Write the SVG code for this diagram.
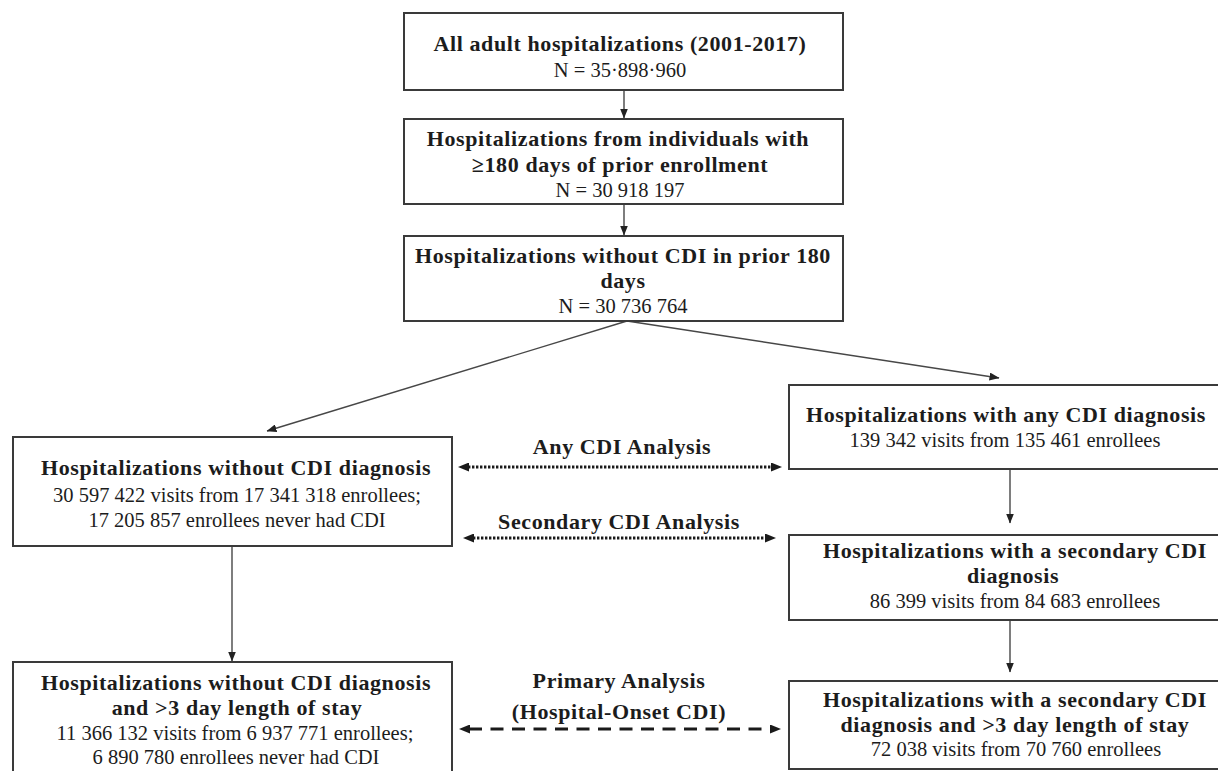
<svg xmlns="http://www.w3.org/2000/svg" width="1218" height="771" viewBox="0 0 1218 771">
<style>
.box{fill:#fff;stroke:#3a3a3a;stroke-width:2}
.t{font-family:"Liberation Serif","Times New Roman",serif;fill:#1c1c1c;text-anchor:middle}
.b{font-weight:bold;font-size:22px;letter-spacing:0.6px}
.r{font-size:20.5px}
.conn{stroke:#474747;stroke-width:1.4;fill:none}
.dot{stroke:#1a1a1a;stroke-width:3.2;fill:none;stroke-dasharray:2.4 1.6}
.dash{stroke:#1a1a1a;stroke-width:3;fill:none;stroke-dasharray:13 8.5}
</style>
<defs>
<marker id="ah" markerUnits="userSpaceOnUse" markerWidth="10" markerHeight="8" refX="9.5" refY="4" orient="auto">
<path d="M0,0 L10,4 L0,8 z" fill="#222"/>
</marker>
<marker id="ab" markerUnits="userSpaceOnUse" markerWidth="11" markerHeight="9" refX="1" refY="4.5" orient="auto-start-reverse">
<path d="M0,0 L11,4.5 L0,9 z" fill="#1a1a1a"/>
</marker>
</defs>
<rect width="1218" height="771" fill="#fff"/>

<g id="connectors">
<line class="conn" x1="624" y1="90" x2="624" y2="118" marker-end="url(#ah)"/>
<line class="conn" x1="624" y1="204" x2="624" y2="235" marker-end="url(#ah)"/>
<line class="conn" x1="627" y1="321" x2="267" y2="431" marker-end="url(#ah)"/>
<line class="conn" x1="627" y1="321" x2="999" y2="378" marker-end="url(#ah)"/>
<line class="conn" x1="232" y1="546" x2="232" y2="661" marker-end="url(#ah)"/>
<line class="conn" x1="1010" y1="469" x2="1010" y2="523" marker-end="url(#ah)"/>
<line class="conn" x1="1010" y1="620" x2="1010" y2="672" marker-end="url(#ah)"/>
<line class="dot" x1="468" y1="467" x2="772" y2="467" marker-start="url(#ab)" marker-end="url(#ab)"/>
<line class="dot" x1="473" y1="538" x2="766" y2="538" marker-start="url(#ab)" marker-end="url(#ab)"/>
<line class="dash" x1="469" y1="729" x2="771" y2="729" marker-start="url(#ab)" marker-end="url(#ab)"/>
<text class="t b" x="622" y="454">Any CDI Analysis</text>
<text class="t b" x="619" y="529">Secondary CDI Analysis</text>
<text class="t b" x="619" y="688">Primary Analysis</text>
<text class="t b" x="619" y="719">(Hospital-Onset CDI)</text>
</g>

<g id="n1">
<rect class="box" x="404" y="13" width="439" height="77"/>
<text class="t b" x="620" y="51">All adult hospitalizations (2001-2017)</text>
<text class="t r" x="620" y="77">N = 35·898·960</text>
</g>

<g id="n2">
<rect class="box" x="404" y="119" width="439" height="85"/>
<text class="t b" x="618" y="146">Hospitalizations from individuals with</text>
<text class="t b" x="620" y="172">≥180 days of prior enrollment</text>
<text class="t r" x="620" y="197">N = 30 918 197</text>
</g>

<g id="n3">
<rect class="box" x="404" y="236" width="439" height="85"/>
<text class="t b" x="623" y="263">Hospitalizations without CDI in prior 180</text>
<text class="t b" x="623" y="288">days</text>
<text class="t r" x="623" y="313">N = 30 736 764</text>
</g>

<g id="n4">
<rect class="box" x="13" y="437" width="439" height="109"/>
<text class="t b" x="236" y="475">Hospitalizations without CDI diagnosis</text>
<text class="t r" x="237" y="502">30 597 422 visits from 17 341 318 enrollees;</text>
<text class="t r" x="237" y="527">17 205 857 enrollees never had CDI</text>
</g>

<g id="n5">
<rect class="box" x="789" y="385" width="440" height="84"/>
<text class="t b" x="1006" y="422">Hospitalizations with any CDI diagnosis</text>
<text class="t r" x="1005" y="447">139 342 visits from 135 461 enrollees</text>
</g>

<g id="n6">
<rect class="box" x="789" y="535" width="440" height="85"/>
<text class="t b" x="1015" y="558">Hospitalizations with a secondary CDI</text>
<text class="t b" x="1013" y="583">diagnosis</text>
<text class="t r" x="1015" y="608">86 399 visits from 84 683 enrollees</text>
</g>

<g id="n7">
<rect class="box" x="13" y="662" width="439" height="120"/>
<text class="t b" x="236" y="690">Hospitalizations without CDI diagnosis</text>
<text class="t b" x="237" y="715">and &gt;3 day length of stay</text>
<text class="t r" x="235" y="740">11 366 132 visits from 6 937 771 enrollees;</text>
<text class="t r" x="236" y="764">6 890 780 enrollees never had CDI</text>
</g>

<g id="n8">
<rect class="box" x="789" y="681" width="440" height="88"/>
<text class="t b" x="1015" y="707">Hospitalizations with a secondary CDI</text>
<text class="t b" x="1015" y="732">diagnosis and &gt;3 day length of stay</text>
<text class="t r" x="1016" y="756">72 038 visits from 70 760 enrollees</text>
</g>
</svg>
